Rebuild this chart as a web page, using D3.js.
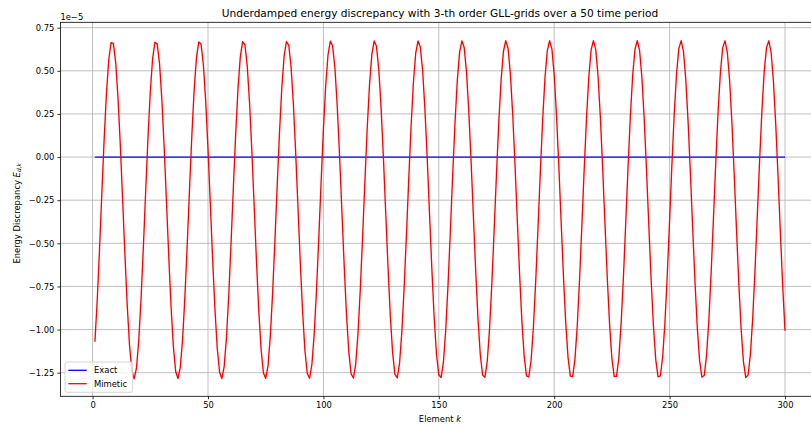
<!DOCTYPE html>
<html>
<head>
<meta charset="utf-8">
<script src="https://cdn.jsdelivr.net/npm/d3@7"></script>
<style>
  html, body { margin: 0; padding: 0; background: #fff; }
  svg { display: block; font-family: "DejaVu Sans", sans-serif; }
</style>
</head>
<body>
<svg id="chart" width="811" height="427"></svg>
<script>
// Energy discrepancy per element (units of 1e-5), mimetic scheme
const mimetic = [
  -1.071,-0.831,-0.533,-0.211,0.101,0.369,0.564,0.664,0.659,0.549,0.345,0.072,-0.243,-0.565,-0.858,-1.091,-1.239,-1.285,-1.224,
  -1.063,-0.820,-0.521,-0.198,0.113,0.379,0.570,0.666,0.656,0.542,0.336,0.060,-0.256,-0.577,-0.869,-1.099,-1.243,-1.284,-1.219,
  -1.055,-0.809,-0.508,-0.185,0.125,0.388,0.576,0.668,0.654,0.535,0.326,0.047,-0.269,-0.590,-0.879,-1.107,-1.246,-1.284,-1.215,
  -1.047,-0.798,-0.495,-0.172,0.136,0.397,0.581,0.669,0.651,0.529,0.316,0.035,-0.282,-0.602,-0.890,-1.114,-1.250,-1.283,-1.210,
  -1.038,-0.787,-0.483,-0.159,0.148,0.406,0.587,0.670,0.648,0.522,0.306,0.023,-0.295,-0.615,-0.900,-1.121,-1.253,-1.282,-1.205,
  -1.029,-0.775,-0.470,-0.147,0.159,0.415,0.592,0.672,0.645,0.515,0.295,0.011,-0.308,-0.627,-0.911,-1.128,-1.256,-1.281,-1.199,
  -1.021,-0.764,-0.457,-0.134,0.171,0.424,0.597,0.673,0.642,0.508,0.285,-0.002,-0.321,-0.639,-0.921,-1.135,-1.260,-1.280,-1.194,
  -1.012,-0.752,-0.444,-0.121,0.182,0.432,0.602,0.673,0.638,0.500,0.275,-0.014,-0.334,-0.651,-0.931,-1.142,-1.262,-1.278,-1.189,
  -1.003,-0.741,-0.431,-0.108,0.193,0.441,0.607,0.674,0.635,0.493,0.264,-0.026,-0.347,-0.663,-0.941,-1.149,-1.265,-1.277,-1.183,
  -0.993,-0.729,-0.418,-0.096,0.205,0.449,0.612,0.675,0.631,0.485,0.254,-0.039,-0.360,-0.676,-0.951,-1.155,-1.268,-1.275,-1.177,
  -0.984,-0.717,-0.405,-0.083,0.216,0.457,0.616,0.675,0.627,0.477,0.243,-0.051,-0.373,-0.688,-0.960,-1.162,-1.270,-1.273,-1.171,
  -0.975,-0.705,-0.393,-0.070,0.227,0.466,0.621,0.675,0.623,0.470,0.232,-0.064,-0.386,-0.699,-0.970,-1.168,-1.272,-1.271,-1.165,
  -0.965,-0.693,-0.380,-0.058,0.237,0.473,0.625,0.675,0.618,0.461,0.221,-0.077,-0.399,-0.711,-0.979,-1.174,-1.274,-1.269,-1.159,
  -0.955,-0.682,-0.367,-0.045,0.248,0.481,0.629,0.675,0.614,0.453,0.210,-0.089,-0.412,-0.723,-0.989,-1.180,-1.276,-1.266,-1.152,
  -0.946,-0.670,-0.354,-0.033,0.259,0.489,0.633,0.674,0.609,0.445,0.199,-0.102,-0.425,-0.735,-0.998,-1.186,-1.278,-1.264,-1.145,
  -0.936,-0.657,-0.341,-0.020,0.269,0.497,0.636,0.674,0.605,0.437,0.188,-0.115,-0.438,-0.746,-1.007
];
// Element index k = 1..N
const elements = mimetic.map((_, i) => i + 1);
// Exact solution conserves energy: zero discrepancy everywhere
const exact = new Array(mimetic.length).fill(0);

const xTicks = [0, 50, 100, 150, 200, 250, 300];
const yTicks = [-1.25, -1.00, -0.75, -0.50, -0.25, 0.00, 0.25, 0.50, 0.75];

const titleText = "Underdamped energy discrepancy with 3-th order GLL-grids over a 50 time period";
const seriesNames = ["Exact", "Mimetic"];
const seriesColors = ["#0000ff", "#ff0000"];

const svg = d3.select("#chart");
const frame = { left: 60.4, right: 819.5, top: 22.3, bottom: 396.3 };

// Axis limits with matplotlib-style 5% margins
const xPad = (d3.max(elements) - d3.min(elements)) * 0.05;
const x = d3.scaleLinear()
  .domain([d3.min(elements) - xPad, d3.max(elements) + xPad])
  .range([frame.left, frame.right]);
const y = d3.scaleLinear()
  .domain([-1.3868, 0.7813])
  .range([frame.bottom, frame.top]);

const defs = svg.append("defs");
defs.append("clipPath").attr("id", "plotClip")
  .append("rect")
  .attr("x", frame.left).attr("y", frame.top)
  .attr("width", frame.right - frame.left).attr("height", frame.bottom - frame.top);

// Grid
const grid = svg.append("g").attr("stroke", "#b0b0b0").attr("stroke-width", 0.8);
xTicks.forEach(t => grid.append("line")
  .attr("x1", x(t)).attr("x2", x(t)).attr("y1", frame.top).attr("y2", frame.bottom));
yTicks.forEach(t => grid.append("line")
  .attr("x1", frame.left).attr("x2", frame.right).attr("y1", y(t)).attr("y2", y(t)));

// Series lines
const line = d3.line().x((d, i) => x(elements[i])).y(d => y(d));
const plot = svg.append("g").attr("clip-path", "url(#plotClip)");
plot.append("path").datum(exact)
  .attr("fill", "none").attr("stroke", seriesColors[0]).attr("stroke-width", 1.3)
  .attr("d", line);
plot.append("path").datum(mimetic)
  .attr("fill", "none").attr("stroke", seriesColors[1]).attr("stroke-width", 1.35)
  .attr("stroke-linejoin", "round")
  .attr("d", line);

// Axes
const fmtY = d => d3.format(".2f")(d).replace("-", "\u2212");
const xAxis = d3.axisBottom(x).tickValues(xTicks).tickSize(3).tickPadding(3).tickFormat(d3.format("d"));
const yAxis = d3.axisLeft(y).tickValues(yTicks).tickSize(3).tickPadding(3).tickFormat(fmtY);

const gx = svg.append("g").attr("transform", `translate(0,${frame.bottom})`).call(xAxis);
const gy = svg.append("g").attr("transform", `translate(${frame.left},0)`).call(yAxis);
[gx, gy].forEach(g => {
  g.select(".domain").remove();
  g.selectAll(".tick line").attr("stroke", "#000").attr("stroke-width", 0.8);
  g.selectAll(".tick text").attr("fill", "#000")
    .style("font-family", "'DejaVu Sans', sans-serif").style("font-size", "8.4px");
});

// Spines
svg.append("rect")
  .attr("x", frame.left).attr("y", frame.top)
  .attr("width", frame.right - frame.left).attr("height", frame.bottom - frame.top)
  .attr("fill", "none").attr("stroke", "#000").attr("stroke-width", 0.8);

// Offset text
const off = svg.append("text").attr("x", frame.left).attr("y", 19.5)
  .attr("font-size", "8.4px").attr("fill", "#000");
off.append("tspan").text("1e\u22125");

// Title
svg.append("text")
  .attr("x", (frame.left + frame.right) / 2).attr("y", 16.8)
  .attr("text-anchor", "middle").attr("font-size", "10.6px").attr("fill", "#000")
  .text(titleText);

// X label
const xl = svg.append("text")
  .attr("x", (frame.left + frame.right) / 2).attr("y", 421.5)
  .attr("text-anchor", "middle").attr("font-size", "8.4px").attr("fill", "#000");
xl.append("tspan").text("Element ");
xl.append("tspan").attr("font-style", "italic").text("k");

// Y label
const yl = svg.append("text")
  .attr("transform", `translate(19.5,${(frame.top + frame.bottom) / 2 + 4}) rotate(-90)`)
  .attr("text-anchor", "middle").attr("font-size", "8.4px").attr("fill", "#000");
yl.append("tspan").text("Energy Discrepancy ");
yl.append("tspan").attr("font-style", "italic").text("E");
yl.append("tspan").attr("font-style", "italic").attr("font-size", "5.9px").attr("dy", 1.6).text("d,k");

// Legend
const lg = svg.append("g").attr("transform", "translate(65,362)");
lg.append("rect").attr("width", 67.7).attr("height", 30.3).attr("rx", 2)
  .attr("fill", "#fff").attr("fill-opacity", 0.8)
  .attr("stroke", "#cccccc").attr("stroke-width", 0.8);
seriesNames.forEach((name, i) => {
  const yy = 8.3 + i * 13.4;
  lg.append("line").attr("x1", 3.3).attr("x2", 21.7).attr("y1", yy).attr("y2", yy)
    .attr("stroke", seriesColors[i]).attr("stroke-width", 1.3);
  lg.append("text").attr("x", 29).attr("y", yy + 3).attr("font-size", "8.4px").attr("fill", "#000")
    .text(name);
});
</script>
</body>
</html>
